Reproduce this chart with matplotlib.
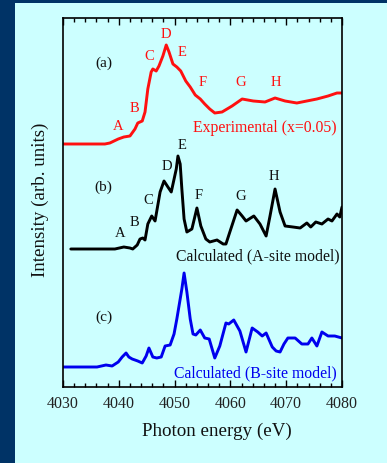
import matplotlib
matplotlib.use("Agg")
import matplotlib.pyplot as plt
from matplotlib.patches import Rectangle
from matplotlib.ticker import MultipleLocator

plt.rcParams['font.family'] = ['Liberation Serif', 'DejaVu Serif']

# ---- data (photon energy in eV, intensity in arb. units incl. vertical offsets) ----
E_exp = [4030.0, 4034.8, 4037.5, 4038.4, 4039.9, 4040.9, 4042.0, 4042.9, 4043.4, 4044.2,
         4044.7, 4045.2, 4045.8, 4046.1, 4046.7, 4047.2, 4047.9, 4048.5, 4049.0, 4049.7,
         4050.4, 4051.1, 4052.0, 4052.8, 4053.7, 4054.6, 4055.4, 4056.3, 4057.2, 4058.5,
         4060.3, 4062.1, 4064.1, 4066.2, 4068.0, 4069.8, 4071.9, 4073.7, 4075.5, 4077.5,
         4079.1, 4080.0]
I_exp = [243, 243, 243, 244, 248, 250, 251, 258, 264, 266,
         275, 298, 315, 318, 316, 321, 331, 342, 335, 323,
         320, 316, 306, 300, 292, 288, 283, 278, 274, 275,
         281, 288, 286, 285, 289, 286, 284, 286, 288, 291,
         294, 294]

E_A = [4031.4, 4039.3, 4040.9, 4042.0, 4042.5, 4043.3, 4043.8, 4044.3, 4044.7, 4045.2,
       4045.9, 4046.5, 4047.4, 4048.1, 4048.8, 4049.4, 4050.3, 4050.6, 4051.0, 4051.3,
       4051.7, 4052.2, 4053.1, 4054.0, 4054.7, 4055.6, 4056.3, 4057.6, 4058.7, 4059.2,
       4059.9, 4061.2, 4062.1, 4062.8, 4064.2, 4065.3, 4066.4, 4067.1, 4068.0, 4068.9,
       4069.8, 4071.2, 4072.5, 4073.7, 4074.4, 4075.3, 4076.4, 4077.5, 4078.2, 4079.1,
       4079.6, 4080.0]
I_A = [138, 138, 140, 139, 138, 142, 148, 149, 147, 163,
       171, 166, 195, 206, 200, 195, 218, 231, 223, 198,
       168, 155, 158, 179, 161, 148, 145, 147, 143, 143,
       155, 177, 171, 166, 171, 163, 151, 171, 198, 175,
       161, 160, 159, 164, 160, 165, 163, 168, 166, 173,
       170, 180]

E_B = [4030.0, 4036.1, 4037.7, 4038.8, 4039.9, 4040.6, 4041.3, 4041.8, 4042.4, 4043.4,
       4044.2, 4044.9, 4045.4, 4046.1, 4046.8, 4047.6, 4048.3, 4049.2, 4049.9, 4050.4,
       4051.3, 4051.7, 4052.2, 4052.8, 4053.3, 4053.8, 4054.6, 4055.4, 4056.2, 4057.2,
       4058.1, 4059.2, 4059.7, 4060.6, 4061.7, 4062.8, 4063.9, 4064.9, 4065.7, 4066.4,
       4067.5, 4068.2, 4068.9, 4069.6, 4070.3, 4071.6, 4072.8, 4073.9, 4074.6, 4075.5,
       4076.4, 4077.5, 4078.7, 4080.0]
I_B = [20, 20, 22, 21, 25, 30, 34, 30, 28, 26,
       24, 31, 39, 30, 29, 30, 41, 42, 53, 68,
       98, 114, 95, 68, 53, 52, 57, 49, 48, 29,
       41, 64, 63, 67, 56, 35, 59, 55, 51, 54,
       40, 36, 35, 43, 49, 49, 43, 43, 49, 41,
       55, 51, 51, 49]

peak_letters = ['A', 'B', 'C', 'D', 'E', 'F', 'G', 'H']
xticks = [4030, 4040, 4050, 4060, 4070, 4080]

# ---- label positions ----
pos_a = [(4039.9, 262), (4042.9, 280), (4045.4, 332), (4048.5, 353),
         (4051.3, 336), (4055.1, 305), (4061.9, 305), (4068.2, 306)]
pos_b = [(4040.2, 154), (4042.9, 165), (4045.2, 187), (4048.6, 221),
         (4051.3, 242), (4054.4, 192), (4061.9, 191), (4067.8, 211)]

BG = '#CCFFFF'
NAVY = '#003366'

fig = plt.figure(figsize=(3.87, 4.64), dpi=100, facecolor=BG)
fig.patches.append(Rectangle((0, 0), 15 / 387, 1, transform=fig.transFigure,
                             facecolor=NAVY, edgecolor='none', zorder=0))
fig.patches.append(Rectangle((0, 1 - 4 / 464), 1, 4 / 464, transform=fig.transFigure,
                             facecolor=NAVY, edgecolor='none', zorder=0))

ax = fig.add_axes([63 / 387, 1 - 388 / 464, (342 - 63) / 387, (388 - 19) / 464])
ax.set_facecolor(BG)

lw = 2.1
ax.plot(E_exp, I_exp, color='#FF1010', lw=lw, solid_joinstyle='round', solid_capstyle='round')
ax.plot(E_A, I_A, color='black', lw=lw, solid_joinstyle='round', solid_capstyle='round')
ax.plot(E_B, I_B, color='#0000EE', lw=lw, solid_joinstyle='round', solid_capstyle='round')

ax.set_xlim(4030, 4080)
ax.set_ylim(0, 369)
ax.set_xticks(xticks)
ax.xaxis.set_minor_locator(MultipleLocator(2))
ax.tick_params(axis='x', which='both', direction='in', top=True, bottom=True,
               labelsize=11.5, width=1.0, colors='black', labelcolor='#222222')
ax.tick_params(axis='x', which='major', length=5, pad=6)
ax.tick_params(axis='x', which='minor', length=3)
ax.set_yticks([])
for s in ax.spines.values():
    s.set_linewidth(1.2)

ax.set_xlabel('Photon energy (eV)', fontsize=13.7, color='#111111')
ax.xaxis.set_label_coords((217 - 63) / 279, -0.095)
ax.set_ylabel('Intensity (arb. units)', fontsize=13.7, color='#111111')
ax.yaxis.set_label_coords(-0.05, 0.51)

fs = 10.5
for lab, (x, y) in zip(peak_letters, pos_a):
    ax.text(x, y, lab, color='#FF1010', fontsize=fs, ha='center', va='center')
for lab, (x, y) in zip(peak_letters, pos_b):
    ax.text(x, y, lab, color='#111111', fontsize=fs, ha='center', va='center')

fs_p = 11
ax.text(4037.3, 325, '(a)', fontsize=fs_p, ha='center', va='center', color='#111111')
ax.text(4037.3, 201, '(b)', fontsize=fs_p, ha='center', va='center', color='#111111')
ax.text(4037.3, 71, '(c)', fontsize=fs_p, ha='center', va='center', color='#111111')

fs_t = 11.3
ax.text(4079.1, 260, 'Experimental (x=0.05)', color='#FF1010', fontsize=fs_t,
        ha='right', va='center')
ax.text(4079.5, 132, 'Calculated (A-site model)', color='#111111', fontsize=fs_t,
        ha='right', va='center')
ax.text(4079.1, 15, 'Calculated (B-site model)', color='#0000EE', fontsize=fs_t,
        ha='right', va='center')

fig.savefig('out.png', dpi=100, facecolor=BG)
